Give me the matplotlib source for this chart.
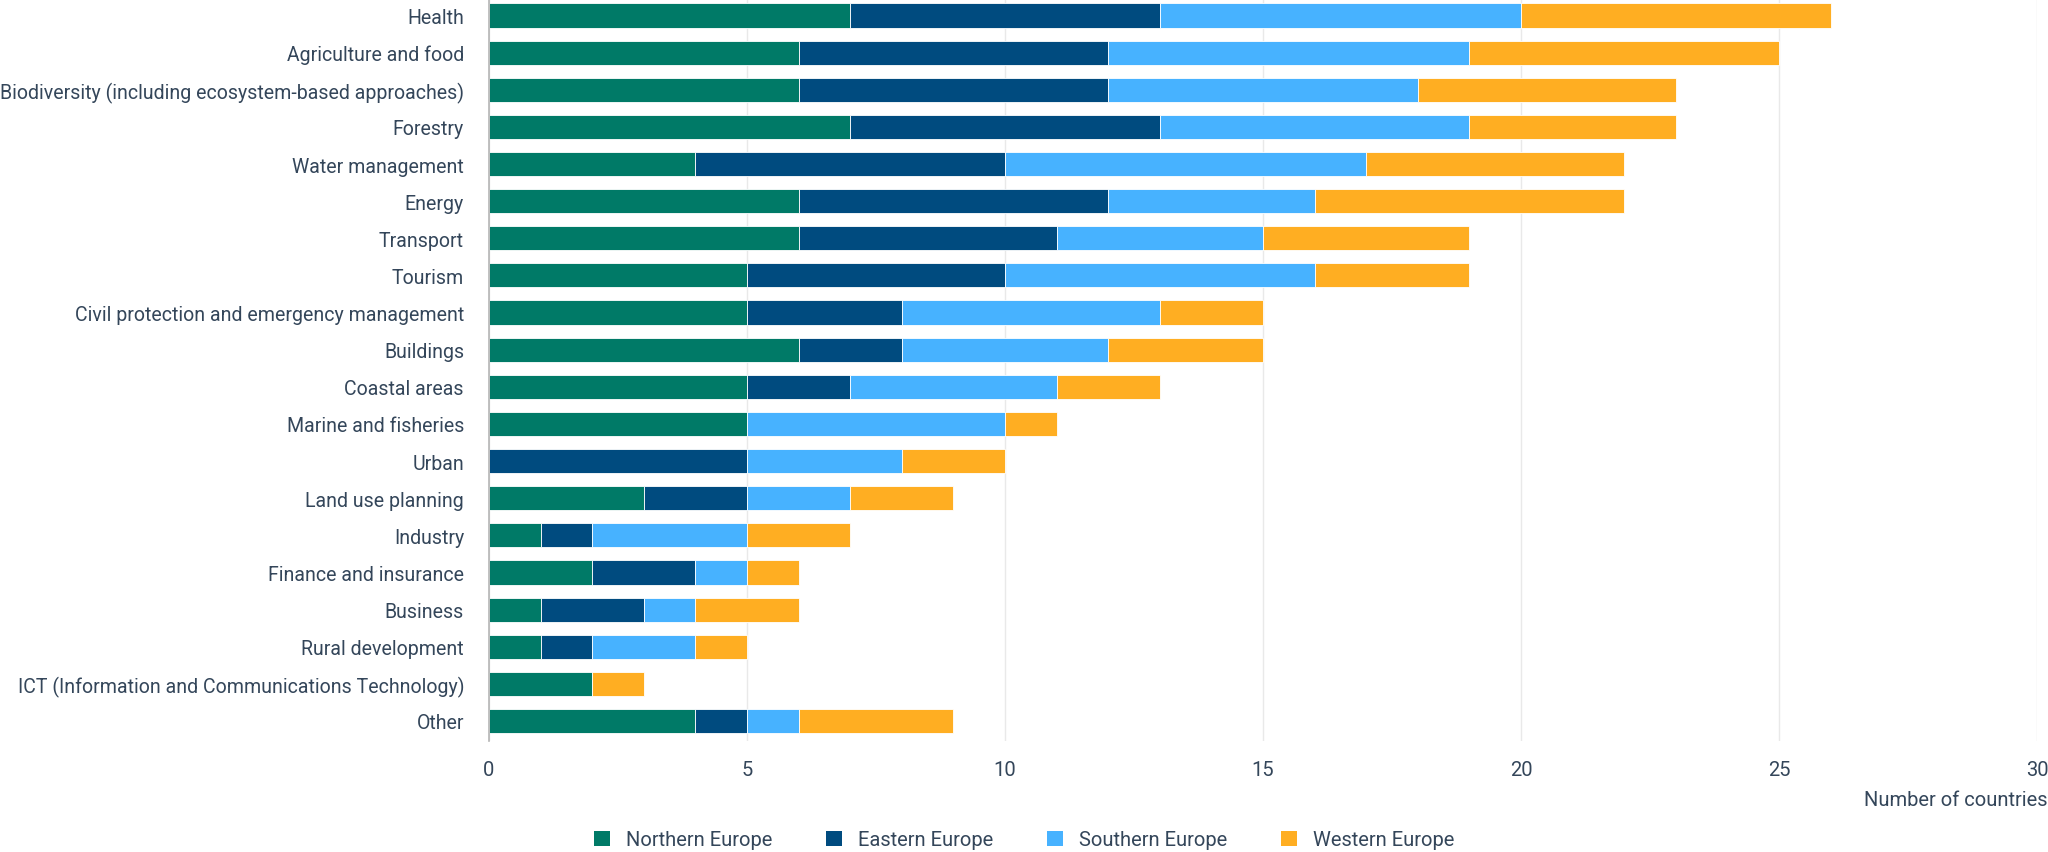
import matplotlib
matplotlib.use("Agg")
import matplotlib.pyplot as plt
from matplotlib.patches import Patch
import numpy as np

categories = [
    "Health", "Agriculture and food", "Biodiversity (including ecosystem-based approaches)",
    "Forestry", "Water management", "Energy", "Transport", "Tourism",
    "Civil protection and emergency management", "Buildings", "Coastal areas",
    "Marine and fisheries", "Urban", "Land use planning", "Industry",
    "Finance and insurance", "Business", "Rural development",
    "ICT (Information and Communications Technology)", "Other",
]
northern = [7, 6, 6, 7, 4, 6, 6, 5, 5, 6, 5, 5, 0, 3, 1, 2, 1, 1, 2, 4]
eastern  = [6, 6, 6, 6, 6, 6, 5, 5, 3, 2, 2, 0, 5, 2, 1, 2, 2, 1, 0, 1]
southern = [7, 7, 6, 6, 7, 4, 4, 6, 5, 4, 4, 5, 3, 2, 3, 1, 1, 2, 0, 1]
western  = [6, 6, 5, 4, 5, 6, 4, 3, 2, 3, 2, 1, 2, 2, 2, 1, 2, 1, 1, 3]
series_names = ["Northern Europe", "Eastern Europe", "Southern Europe", "Western Europe"]
x_ticks = [0, 5, 10, 15, 20, 25, 30]
x_label = "Number of countries"

colors = ["#007a67", "#004b7f", "#47b2ff", "#ffae22"]
text_color = "#34465a"

plt.rcParams['font.family'] = ['Roboto', 'DejaVu Sans']

fig = plt.figure(figsize=(20.48, 8.53), dpi=100)
ax = fig.add_axes([489/2048, 1 - 742/853, (2037 - 489)/2048, 742/853])

y = np.arange(len(categories))
left = np.zeros(len(categories))
for vals, col, name in zip([northern, eastern, southern, western], colors, series_names):
    v = np.array(vals, dtype=float)
    ax.barh(y, v, left=left, height=0.65, color=col, edgecolor="white",
            linewidth=0.6, label=name, zorder=3)
    left += v

ax.set_xlim(0, 30)
ax.set_ylim(19.54, -0.445)
ax.set_xticks(x_ticks)
ax.set_yticks(y)
ax.set_yticklabels(categories)
ax.tick_params(axis="both", length=0, labelsize=14.5, colors=text_color)
ax.tick_params(axis="y", pad=18, labelsize=14.05)
ax.tick_params(axis="x", pad=14)
ax.grid(axis="x", color="#e9e9e9", linewidth=1, zorder=0)
ax.set_axisbelow(True)
for s in ["top", "right", "bottom"]:
    ax.spines[s].set_visible(False)
ax.spines["left"].set_color("#b5b5b5")
ax.spines["left"].set_linewidth(1.2)
ax.spines["left"].set_zorder(4)

fig.text(2047/2048, 1 - 801/853, x_label, ha="right", va="center",
         fontsize=14.5, color=text_color)

handles = [Patch(facecolor=c, edgecolor="none") for c in colors]
leg = fig.legend(handles, series_names, loc="center", bbox_to_anchor=(0.5, 1 - 841/853),
                 ncol=4, frameon=False, fontsize=14.5, handlelength=0.8, handleheight=0.8,
                 handletextpad=0.8, columnspacing=2.65, borderpad=0)
for t in leg.get_texts():
    t.set_color(text_color)

fig.savefig("out.png", dpi=100)
